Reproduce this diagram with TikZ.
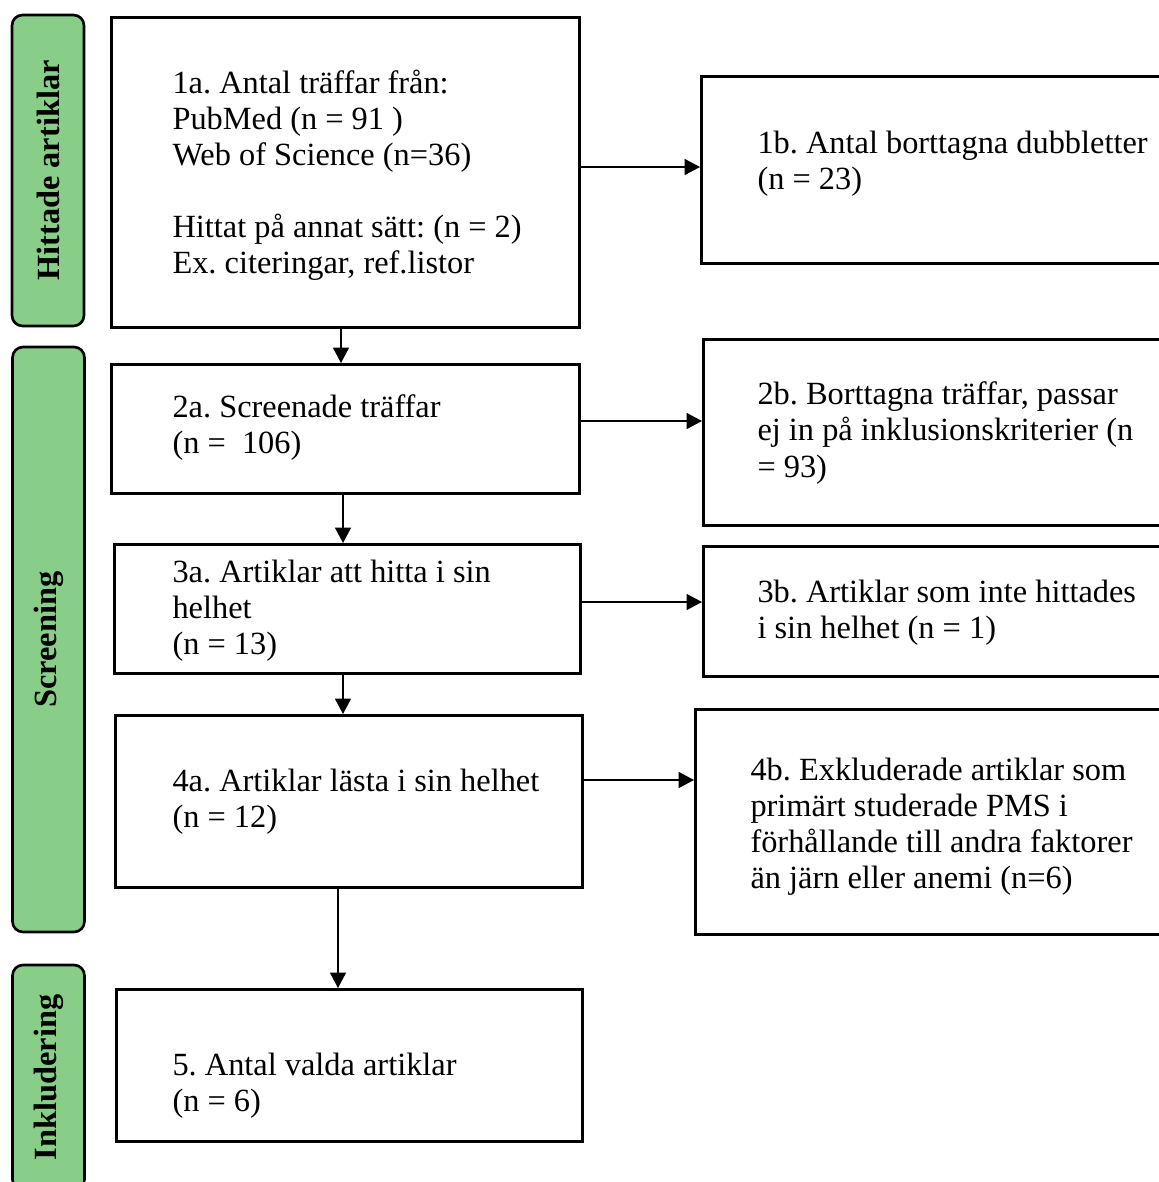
\documentclass[tikz,border=0pt]{standalone}
\usepackage{fontspec}
\setmainfont{Liberation Serif}
\usetikzlibrary{arrows.meta,positioning}
\definecolor{fasgreen}{RGB}{136,206,136}
\newdimen\pxu
\pxu=0.38pt
\frenchspacing

\tikzset{
  flowbox/.style={draw, rectangle, line width=1pt, inner sep=0pt, anchor=north west},
  boxtext/.style={align=left, anchor=west, inner sep=0pt, font=\fontsize{12.3pt}{13.7pt}\selectfont},
  phase/.style={draw, rectangle, rounded corners=4pt, fill=fasgreen, line width=1pt, rotate=90,
    inner sep=0pt, minimum height=72*\pxu, font=\fontsize{12.3pt}{13.7pt}\selectfont\bfseries},
  flowarrow/.style={-{Triangle[length=5.8pt,width=6pt]}, line width=0.6pt}
}

\begin{document}
\begin{tikzpicture}[x=0.38pt, y=-0.38pt]
        \useasboundingbox (0,0) rectangle (1159,1182);
        \clip (0,0) rectangle (1159,1182);

        % Phases
        \node[phase, minimum width=311*\pxu] (hit) at (48,170.5) {Hittade artiklar};
        \node[phase, minimum width=585*\pxu] (scr) at (48.5,639.5) {Screening};
        \node[phase, minimum width=225*\pxu] (ink) at (48.5,1077.5) {Inkludering};

        % Boxes
        \node[flowbox, minimum width=468*\pxu, minimum height=310*\pxu] (n1a) at (110,16) {};
        \node[flowbox, minimum width=540*\pxu, minimum height=187*\pxu] (n1b) at (700,75) {};
        \node[flowbox, minimum width=468*\pxu, minimum height=129*\pxu] (n2a) at (110,363) {};
        \node[flowbox, minimum width=540*\pxu, minimum height=186*\pxu] (n2b) at (702,338) {};
        \node[flowbox, minimum width=466*\pxu, minimum height=129*\pxu] (n3a) at (113,543) {};
        \node[flowbox, minimum width=540*\pxu, minimum height=130*\pxu] (n3b) at (702,545) {};
        \node[flowbox, minimum width=467*\pxu, minimum height=172*\pxu] (n4a) at (114,714) {};
        \node[flowbox, minimum width=540*\pxu, minimum height=225*\pxu] (n4b) at (694,708) {};
        \node[flowbox, minimum width=466*\pxu, minimum height=152*\pxu] (n5) at (115,988) {};

        % Texts
        \node[boxtext] (t1a) at (172,175) {1a. Antal träffar från:\\PubMed (n = 91 )\\Web of Science (n=36)\\[13.7pt]Hittat på annat sätt: (n = 2)\\Ex. citeringar, ref.listor};
        \node[boxtext] (t1b) at (757,164) {1b. Antal borttagna dubbletter\\(n = 23)};
        \node[boxtext] (t2a) at (172,428) {2a. Screenade träffar\\(n =\ \ 106)};
        \node[boxtext] (t2b) at (757,433) {2b. Borttagna träffar, passar\\ej in på inklusionskriterier (n\\= 93)};
        \node[boxtext] (t3a) at (172,611) {3a. Artiklar att hitta i sin\\helhet\\(n = 13)};
        \node[boxtext] (t3b) at (757,613) {3b. Artiklar som inte hittades\\i sin helhet (n = 1)};
        \node[boxtext] (t4a) at (172,802) {4a. Artiklar lästa i sin helhet\\(n = 12)};
        \node[boxtext] (t4b) at (750,827) {4b. Exkluderade artiklar som\\primärt studerade PMS i\\förhållande till andra faktorer\\än järn eller anemi (n=6)};
        \node[boxtext] (t5) at (172,1086) {5. Antal valda artiklar\\(n = 6)};

        % Arrows
        \draw[flowarrow] (n1a.east |- 0,167) -- (n1b.west |- 0,167);
        \draw[flowarrow] (n1a.south -| 341,0) -- (n2a.north -| 341,0);
        \draw[flowarrow] (n2a.east |- 0,421) -- (n2b.west |- 0,421);
        \draw[flowarrow] (n2a.south -| 343,0) -- (n3a.north -| 343,0);
        \draw[flowarrow] (n3a.east |- 0,602) -- (n3b.west |- 0,602);
        \draw[flowarrow] (n3a.south -| 343,0) -- (n4a.north -| 343,0);
        \draw[flowarrow] (n4a.east |- 0,780) -- (n4b.west |- 0,780);
        \draw[flowarrow] (n4a.south -| 338,0) -- (n5.north -| 338,0);
    \end{tikzpicture}
\end{document}
